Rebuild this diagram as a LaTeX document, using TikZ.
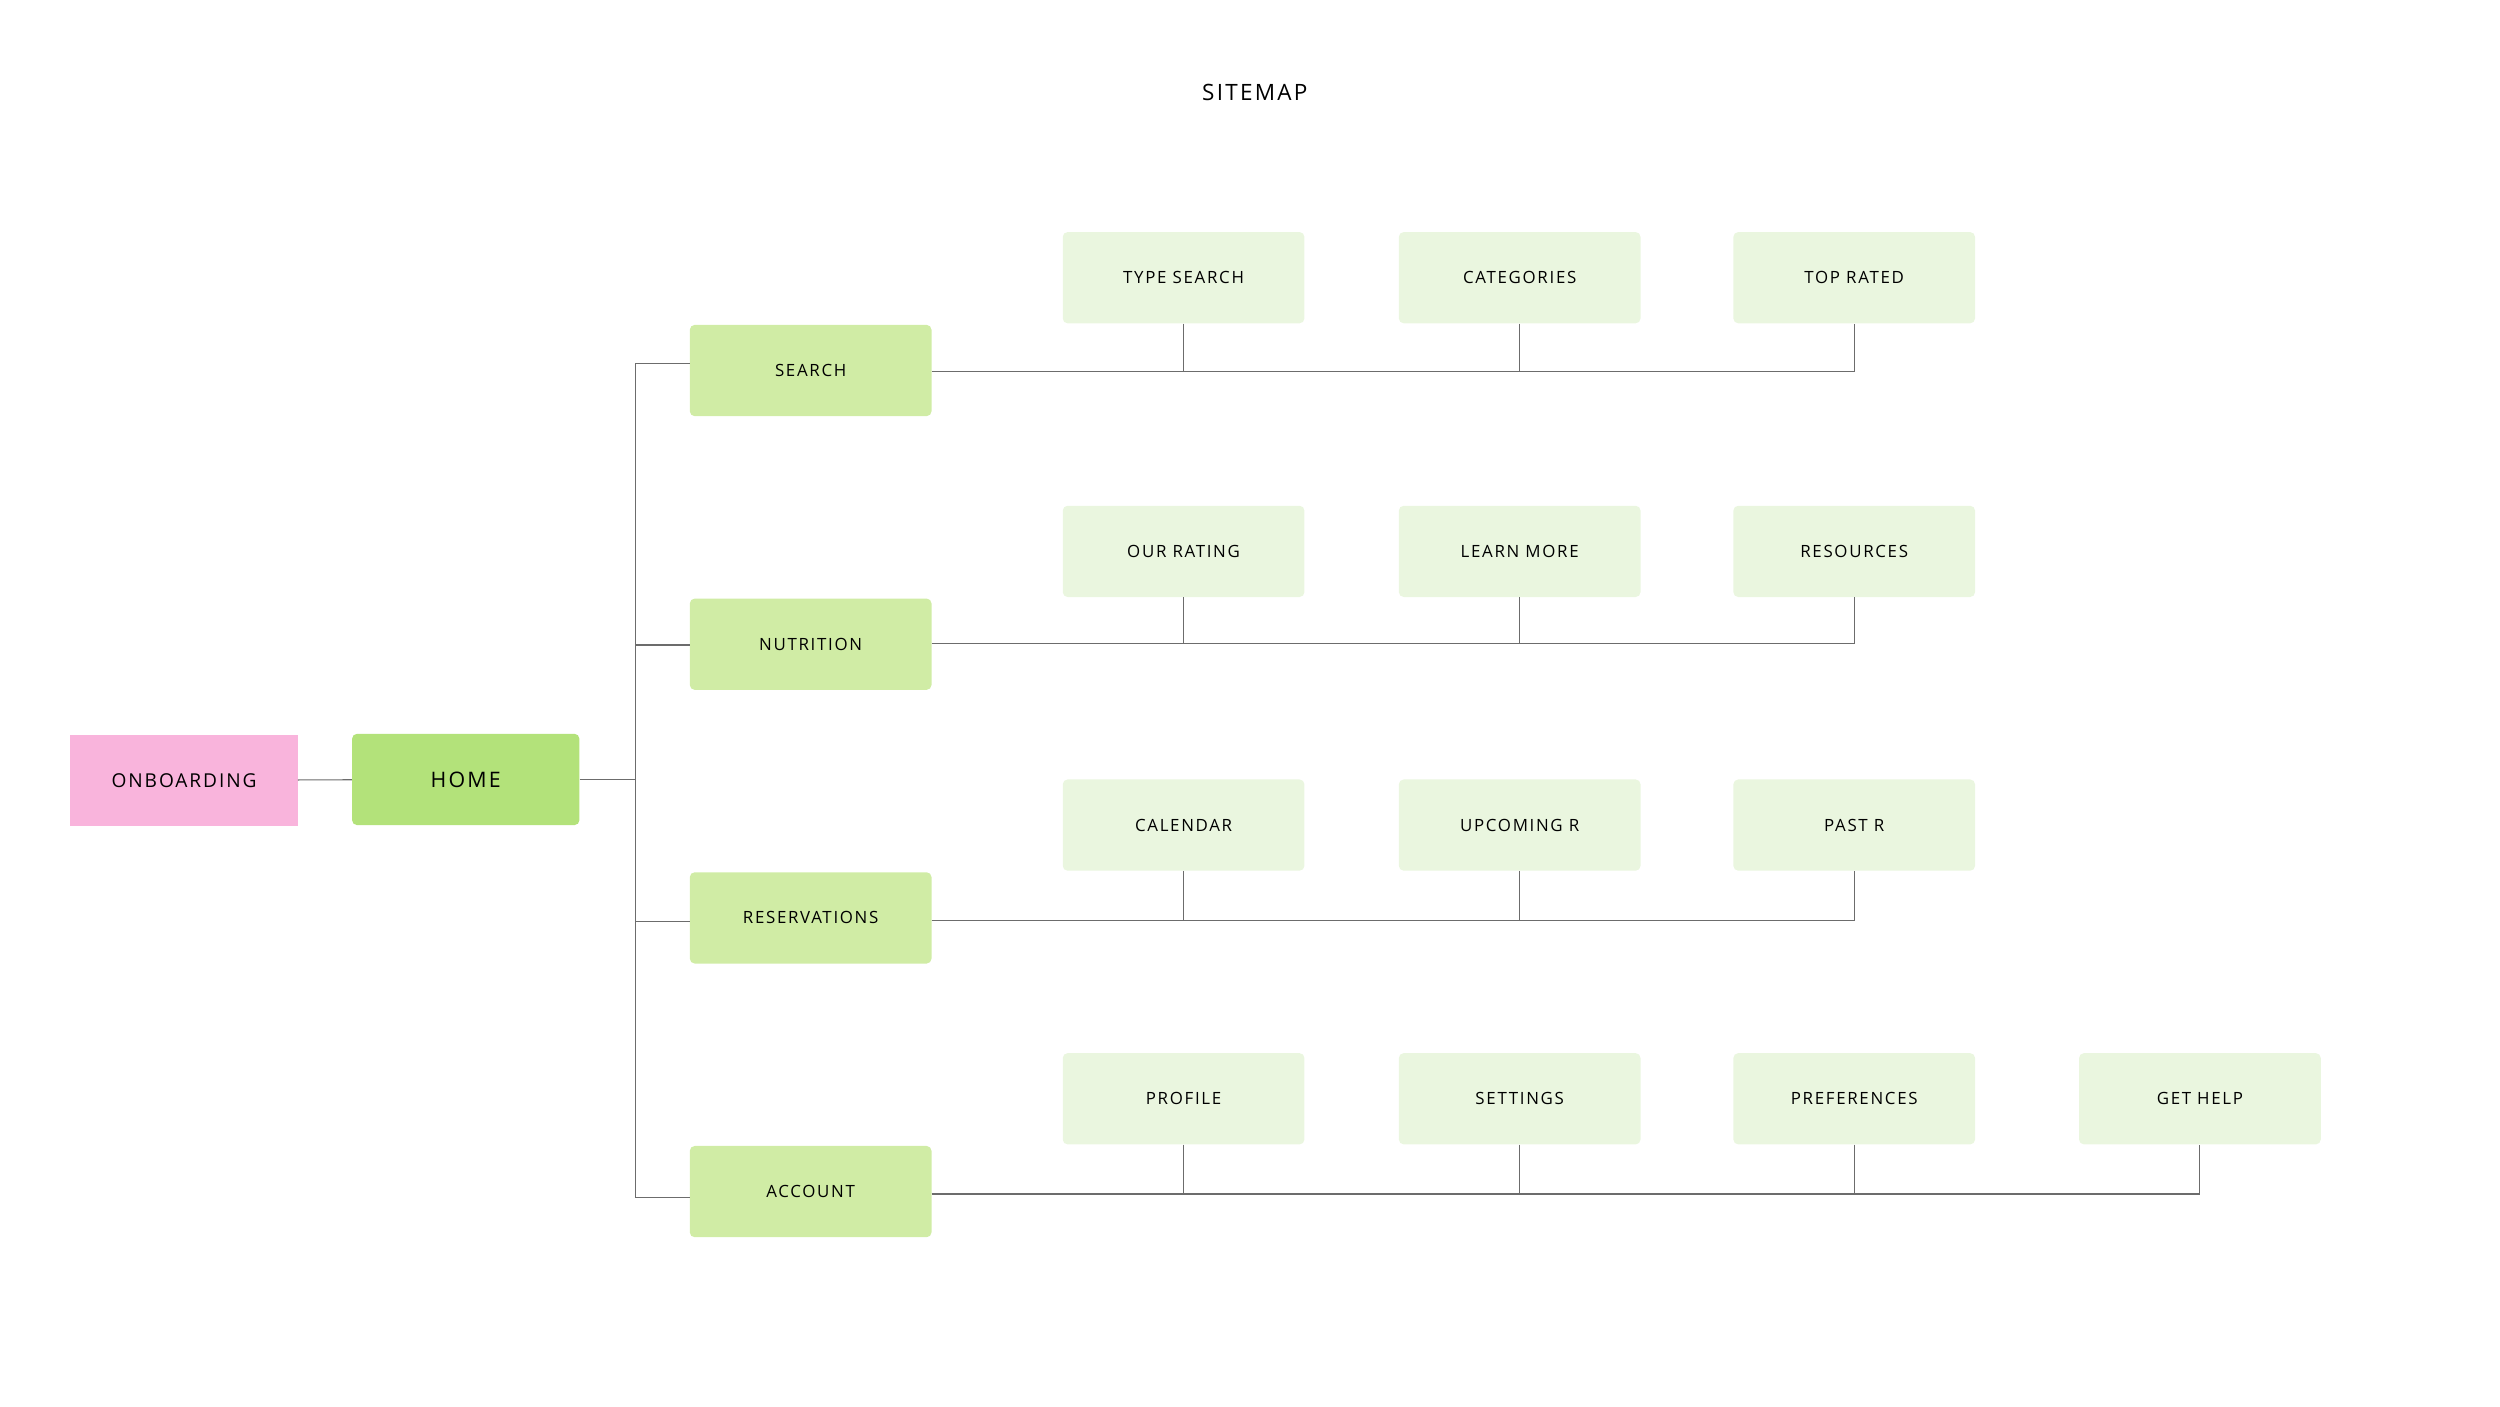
\documentclass[tikz,border=0pt]{standalone}
\usepackage{fontspec}
\setmainfont{Open Sans}[LetterSpace=10]
\begin{document}
\begin{tikzpicture}[x=0.05cm,y=-0.05cm,
  box/.style={rounded corners=0.15cm,inner sep=0pt,minimum width=7.55cm,minimum height=2.85cm,font=\fontsize{15}{18}\selectfont},
  lvl1/.style={box,fill=green1},
  lvl2/.style={box,fill=green2},
  ln/.style={draw=gray!85!black,line width=1pt}]
\definecolor{green1}{HTML}{D0ECA5}
\definecolor{green2}{HTML}{EAF6DF}
\definecolor{homeg}{HTML}{B3E27A}
\definecolor{pinkc}{HTML}{F9B4DC}
\path[use as bounding box] (0,0) rectangle (1562,878.5);
\node[font=\fontsize{20}{24}\selectfont] (title) at (784,58) {SITEMAP};
\node[box,fill=pinkc,rounded corners=0pt,minimum width=7.1cm,font=\fontsize{17}{20}\selectfont] (onb) at (115,487.5) {ONBOARDING};
\node[box,fill=homeg,minimum width=7.1cm,font=\fontsize{19}{22}\selectfont] (home) at (291,487) {HOME};
\node[lvl1] (search) at (506.5,231.5) {SEARCH};
\node[lvl1] (nutr) at (506.5,402.5) {NUTRITION};
\node[lvl1] (res) at (506.5,573.5) {RESERVATIONS};
\node[lvl1] (acc) at (506.5,744.5) {ACCOUNT};
\foreach \n/\x/\y/\t in {ts/739.5/173.5/TYPE SEARCH, cat/949.5/173.5/CATEGORIES, top/1158.5/173.5/TOP RATED,
  our/739.5/344.5/OUR RATING, learn/949.5/344.5/LEARN MORE, resrc/1158.5/344.5/RESOURCES,
  cal/739.5/515.5/CALENDAR, up/949.5/515.5/UPCOMING R, past/1158.5/515.5/PAST R,
  prof/739.5/686.5/PROFILE, set/949.5/686.5/SETTINGS, pref/1158.5/686.5/PREFERENCES, help/1374.5/686.5/GET HELP}
  \node[lvl2] (\n) at (\x,\y) {\t};
\coordinate (trunk) at (397,487);
\draw[ln] (onb) -- (home);
\draw[ln] (home) -- (trunk);
\draw[ln] (search.west|-0,227) -- (397,227) -- (397,748) -- (acc.west|-0,748);
\draw[ln] (nutr.west|-0,403) -- (397,403);
\draw[ln] (res.west|-0,576) -- (397,576);
\draw[ln] (search.east|-0,232) -| (top.south);
\draw[ln] (ts.south) -- (ts.south|-0,232);
\draw[ln] (cat.south) -- (cat.south|-0,232);
\draw[ln] (nutr.east|-0,402) -| (resrc.south);
\draw[ln] (our.south) -- (our.south|-0,402);
\draw[ln] (learn.south) -- (learn.south|-0,402);
\draw[ln] (res.east|-0,575) -| (past.south);
\draw[ln] (cal.south) -- (cal.south|-0,575);
\draw[ln] (up.south) -- (up.south|-0,575);
\draw[ln] (acc.east|-0,746) -| (help.south);
\draw[ln] (prof.south) -- (prof.south|-0,746);
\draw[ln] (set.south) -- (set.south|-0,746);
\draw[ln] (pref.south) -- (pref.south|-0,746);
\end{tikzpicture}
\end{document}
